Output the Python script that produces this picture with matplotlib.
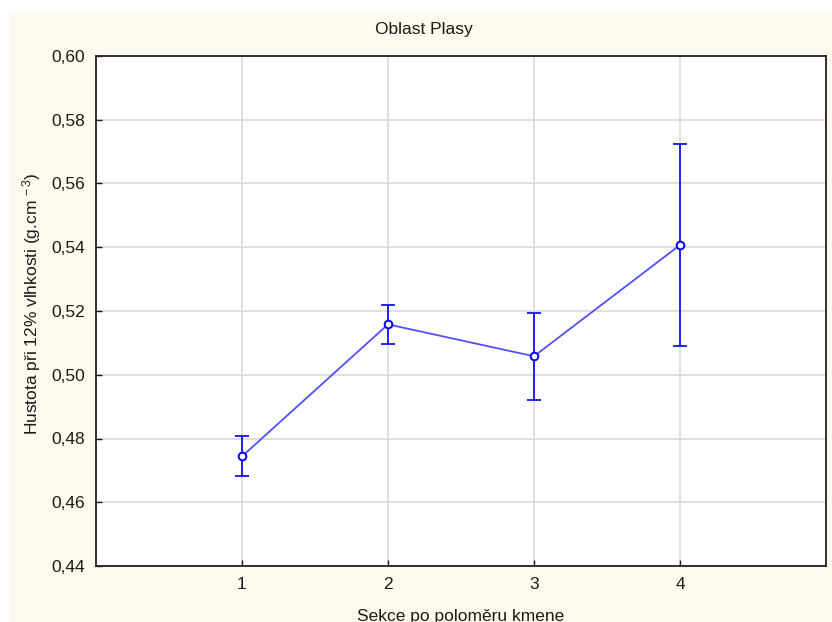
import matplotlib
matplotlib.use("Agg")
import matplotlib.pyplot as plt
from matplotlib.patches import Rectangle
from matplotlib.ticker import FuncFormatter, FixedLocator

plt.rcParams['font.family'] = ['Liberation Sans', 'DejaVu Sans']
plt.rcParams['mathtext.default'] = 'regular'

# Mean density per stem-radius section with its error half-width
sections = [1, 2, 3, 4]
density_mean = [0.4744, 0.5158, 0.5058, 0.5407]
density_err = [0.0063, 0.0061, 0.0137, 0.0317]
y_ticks = [0.44, 0.46, 0.48, 0.50, 0.52, 0.54, 0.56, 0.58, 0.60]

title = "Oblast Plasy"
x_label = "Sekce po poloměru kmene"
y_label = "Hustota při 12% vlhkosti (g.cm$^{\\,-3}$)"

W, H = 832, 622
fig = plt.figure(figsize=(W / 100, H / 100), dpi=100, facecolor='white')

# cream panel behind the chart, leaving a thin white margin top/left
fig.patches.append(Rectangle((9 / W, 0), 1 - 9 / W, 1 - 11 / H,
                             transform=fig.transFigure, facecolor='#FEF9EE',
                             edgecolor='none', zorder=-10))

ax = fig.add_axes([96 / W, 1 - 566 / H, (826 - 96) / W, (566 - 56) / H])
ax.set_zorder(1)
ax.set_facecolor('white')

ax.plot(sections, density_mean, color='#5050FF', lw=1.3, zorder=3)
ax.errorbar(sections, density_mean, yerr=density_err, fmt='none',
            ecolor='#0000FF', elinewidth=1.2, capsize=5, capthick=1.2, zorder=4)
ax.plot(sections, density_mean, 'o', ms=5.5, mfc='white', mec='#0000FF',
        mew=1.4, zorder=5)

ax.set_xlim(0, 5)
ax.set_ylim(0.44, 0.60)
ax.xaxis.set_major_locator(FixedLocator(sections))
ax.yaxis.set_major_locator(FixedLocator(y_ticks))
ax.yaxis.set_major_formatter(FuncFormatter(lambda v, p: f"{v:.2f}".replace('.', ',')))

ax.grid(True, color='#D9D9D9', lw=1.2, zorder=1)
ax.set_axisbelow(True)
ax.tick_params(direction='in', length=4, width=1, labelsize=12.5,
               colors='#1a1a1a', pad=8)
for s in ax.spines.values():
    s.set_color('#222222')
    s.set_linewidth(1.3)

ax.set_title(title, fontsize=12.5, pad=16, color='#1a1a1a', x=0.449)
ax.set_xlabel(x_label, fontsize=12.5, labelpad=12, color='#1a1a1a')
ax.set_ylabel(y_label, fontsize=12.5, color='#1a1a1a')
ax.yaxis.set_label_coords(-0.072, 0.514)

fig.savefig('out.png', dpi=100, facecolor=fig.get_facecolor())
